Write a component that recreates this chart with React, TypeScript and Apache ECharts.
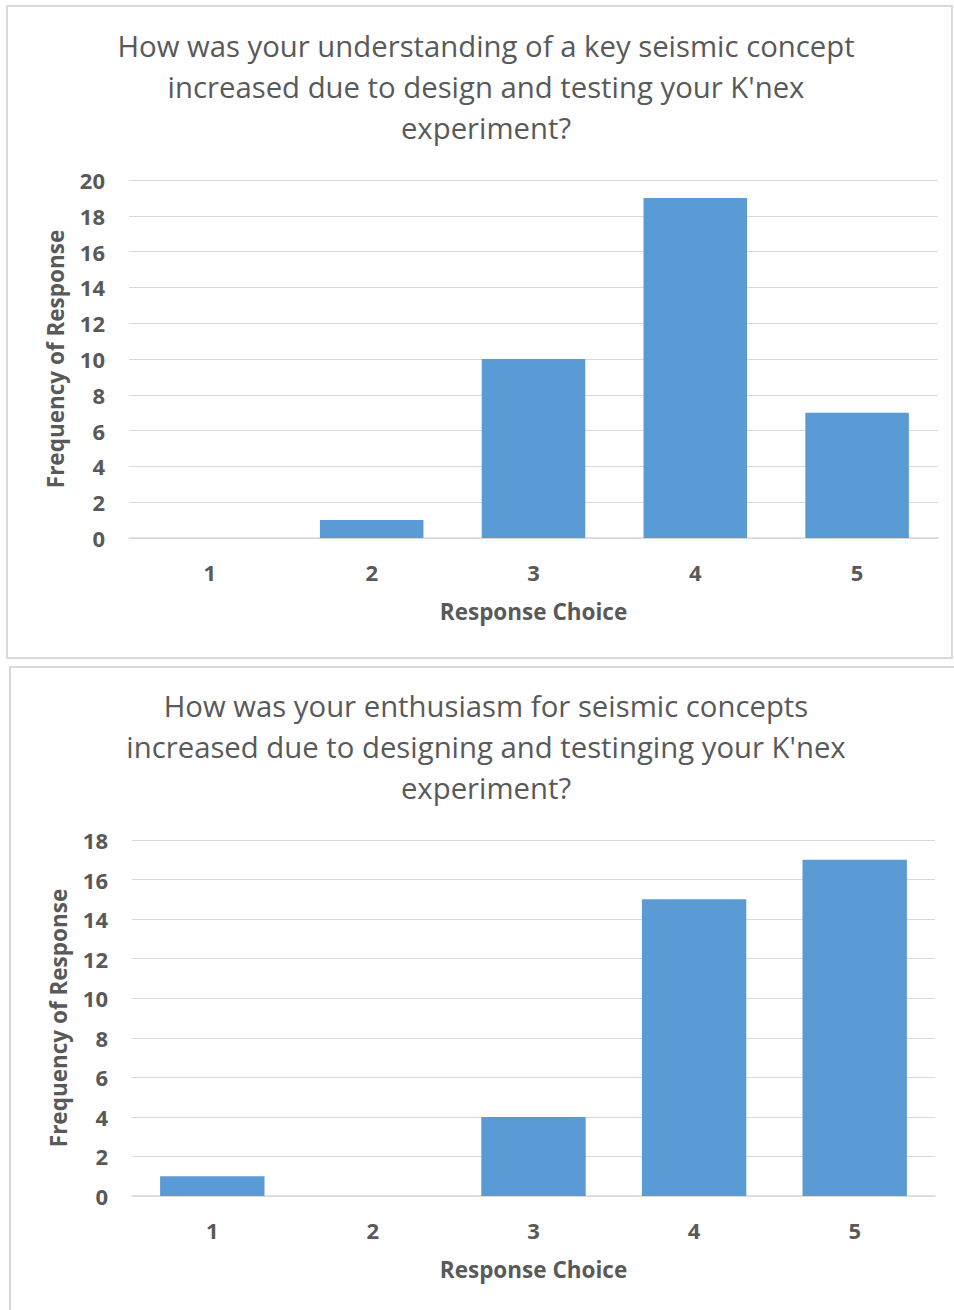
import React, { useEffect, useRef } from "react";
import * as echarts from "echarts";

const categories = ["1", "2", "3", "4", "5"];
const understandingValues = [0, 1, 10, 19, 7];
const enthusiasmValues = [1, 0, 4, 15, 17];
const title1 = "How was your understanding of a key seismic concept\nincreased due to design and testing your K'nex\nexperiment?";
const title2 = "How was your enthusiasm for seismic concepts\nincreased due to designing and testinging your K'nex\nexperiment?";
const xName = "Response Choice";
const yName = "Frequency of Response";

const FONT = "'Open Sans', 'Noto Sans', sans-serif";
const GRAY = "#595959";
const BAR = "#5b9bd5";

export default function App() {
  const ref = useRef<HTMLDivElement>(null);
  useEffect(() => {
    if (!ref.current) return;
    const chart = echarts.init(ref.current, null, { renderer: "svg" });
    const axisLabel = { color: GRAY, fontSize: 22, fontWeight: "bold" as const, fontFamily: FONT };
    const nameStyle = { color: GRAY, fontSize: 22.5, fontWeight: "bold" as const, fontFamily: FONT };
    const mkX = (gi: number) => ({
      type: "category" as const,
      gridIndex: gi,
      data: categories,
      axisTick: { show: false },
      axisLine: { lineStyle: { color: "#d9d9d9", width: 1.5 } },
      axisLabel: { ...axisLabel, margin: 23 },
      name: xName,
      nameLocation: "middle" as const,
      nameGap: 62,
      nameTextStyle: nameStyle,
    });
    const mkY = (gi: number, max: number) => ({
      type: "value" as const,
      gridIndex: gi,
      min: 0,
      max,
      interval: 2,
      axisLabel: { ...axisLabel, margin: 24 },
      splitLine: { lineStyle: { color: "#d9d9d9", width: 1 } },
      name: yName,
      nameLocation: "middle" as const,
      nameGap: 62,
      nameTextStyle: nameStyle,
    });
    const titleStyle = { color: GRAY, fontSize: 29.3, fontWeight: "normal" as const, fontFamily: FONT, lineHeight: 41 };
    chart.setOption({
      animation: false,
      backgroundColor: "#ffffff",
      title: [
        { text: title1, left: 486, top: 25, padding: 0, textAlign: "center", textStyle: titleStyle },
        { text: title2, left: 486, top: 685, padding: 0, textAlign: "center", textStyle: titleStyle },
      ],
      graphic: [
        { type: "rect", shape: { x: 7, y: 6, width: 945, height: 652 }, style: { fill: "none", stroke: "#d9d9d9", lineWidth: 2 }, z: -1 },
        { type: "rect", shape: { x: 10, y: 667, width: 950, height: 650 }, style: { fill: "none", stroke: "#d9d9d9", lineWidth: 2 }, z: -1 },
      ],
      grid: [
        { left: 129, top: 180, width: 809, height: 358 },
        { left: 132, top: 840, width: 803, height: 356 },
      ],
      xAxis: [mkX(0), mkX(1)],
      yAxis: [mkY(0, 20), mkY(1, 18)],
      series: [
        { type: "bar", xAxisIndex: 0, yAxisIndex: 0, data: understandingValues, barWidth: "64%", itemStyle: { color: BAR } },
        { type: "bar", xAxisIndex: 1, yAxisIndex: 1, data: enthusiasmValues, barWidth: "65%", itemStyle: { color: BAR } },
      ],
    });
    return () => chart.dispose();
  }, []);
  return (
    <div
      ref={ref}
      style={{ position: "absolute", left: 0, top: 0, width: 954, height: 1310 }}
    />
  );
}
